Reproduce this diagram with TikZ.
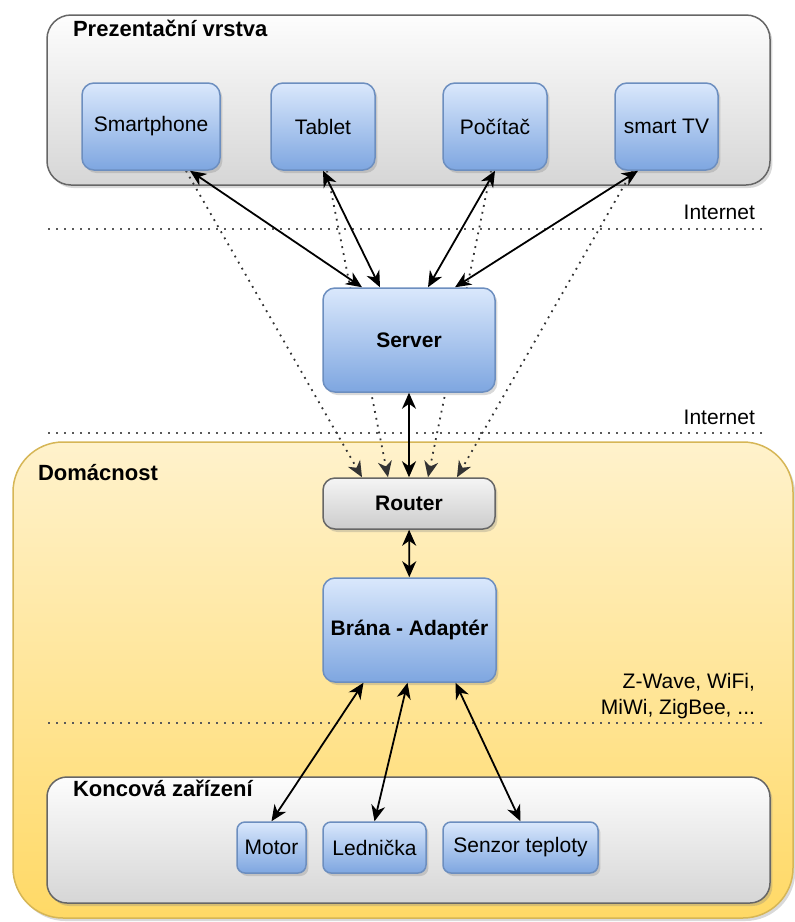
\documentclass[tikz,border=0pt]{standalone}
\usepackage{fontspec}
\setmainfont{Liberation Sans}
\usepackage{tikz}
\usetikzlibrary{arrows.meta}
\usetikzlibrary{shadows}
\definecolor{bluetop}{HTML}{DAE8FC}
\definecolor{bluebot}{HTML}{7EA6E0}
\definecolor{blueline}{HTML}{6C8EBF}
\definecolor{greytop}{HTML}{FDFDFD}
\definecolor{greybot}{HTML}{D6D6D6}
\definecolor{greyline}{HTML}{666666}
\definecolor{yeltop}{HTML}{FFF2CC}
\definecolor{yelbot}{HTML}{FFD966}
\definecolor{yelline}{HTML}{D6B656}
\pgfdeclarelayer{back}
\pgfdeclarelayer{links}
\pgfsetlayers{back,links,main}

\begin{document}
\begin{tikzpicture}[x=0.5pt,y=-0.5pt,
    font=\fontsize{10.5}{12.6}\selectfont,
    shade/.style={drop shadow={opacity=0.3,shadow xshift=1.2pt,shadow yshift=-1.5pt}},
    box/.style={draw=blueline, line width=0.75pt, rounded corners=6pt,
        top color=bluetop, bottom color=bluebot, inner sep=0pt, shade},
    hub/.style={box, draw=greyline, top color=gray!8, bottom color=gray!40},
    layer/.style={draw=greyline, line width=0.75pt, rounded corners=12pt,
        top color=greytop, bottom color=greybot, shade},
    lbl/.style={anchor=west, font=\fontsize{11}{13}\selectfont\bfseries},
    note/.style={anchor=east, align=right},
    link/.style={{Stealth[length=8pt,width=7pt,inset=2.5pt]}-{Stealth[length=8pt,width=7pt,inset=2.5pt]}, line width=0.9pt},
    weak/.style={-{Stealth[length=8pt,width=7pt,inset=2.5pt]}, dash pattern=on 0.9pt off 2.6pt, line width=0.9pt, draw=black!80},
    sep/.style={dash pattern=on 1pt off 3pt, line width=0.8pt, draw=black!65}
]
\useasboundingbox (0,0) rectangle (795,922);

\begin{pgfonlayer}{back}
    \draw[layer] (47,15) rectangle (770,185);
    \draw[yelline, line width=0.75pt, rounded corners=25pt, top color=yeltop, bottom color=yelbot, shade]
        (13,442) rectangle (793,918);
    \draw[layer, rounded corners=10pt] (47,777) rectangle (770,903);
    \draw[sep] (48,229) -- (765,229);
    \draw[sep] (48,433) -- (765,433);
    \draw[sep] (48,723) -- (765,723);
\end{pgfonlayer}

\node[lbl] (pres) at (66,28) {Prezentační vrstva};
\node[lbl] (home) at (31,473) {Domácnost};
\node[lbl] (ends) at (66,788) {Koncová zařízení};
\node[note] (net1) at (762,212) {Internet};
\node[note] (net2) at (762,417) {Internet};
\node[note] (radio) at (762,696) {Z-Wave, WiFi,\\MiWi, ZigBee, ...};

\node[box, minimum width=69pt, minimum height=43.5pt] (sp) at (151,126.5) {Smartphone};
\node[box, minimum width=52pt, minimum height=43.5pt] (tb) at (323,126.5) {Tablet};
\node[box, minimum width=52pt, minimum height=43.5pt] (pc) at (495,126.5) {Počítač};
\node[box, minimum width=51.5pt, minimum height=43.5pt] (tv) at (666.5,126.5) {smart TV};
\node[box, minimum width=86pt, minimum height=52pt, font=\fontsize{10.5}{12.6}\selectfont\bfseries] (srv) at (409,340) {Server};
\node[hub, minimum width=86pt, minimum height=25.5pt, font=\fontsize{10.5}{12.6}\selectfont\bfseries] (rt) at (409,503.5) {Router};
\node[box, minimum width=86.5pt, minimum height=52pt, font=\fontsize{10.5}{12.6}\selectfont\bfseries] (gw) at (409.5,630) {Brána - Adaptér};
\node[box, minimum width=34.5pt, minimum height=25.5pt, rounded corners=4pt] (mot) at (271.5,847.5) {Motor};
\node[box, minimum width=51.5pt, minimum height=25.5pt, rounded corners=4pt] (led) at (374.5,847.5) {Lednička};
\node[box, minimum width=77.5pt, minimum height=25.5pt, rounded corners=4pt] (sen) at (520.5,847.5) {Senzor teploty};

\begin{pgfonlayer}{links}
    \draw[weak] ([xshift=17.5pt]sp.south) -- ([xshift=-23.5pt]rt.north);
    \draw[weak] ([xshift=2pt]tb.south) -- ([xshift=-10.5pt]rt.north);
    \draw[weak] ([xshift=-2pt]pc.south) -- ([xshift=9.5pt]rt.north);
    \draw[weak] ([xshift=-17pt]tv.south) -- ([xshift=24pt]rt.north);
\end{pgfonlayer}

\draw[link] ([xshift=19.5pt]sp.south) -- ([xshift=-23.5pt]srv.north);
\draw[link] (tb.south) -- ([xshift=-14.5pt]srv.north);
\draw[link] (pc.south) -- ([xshift=9.5pt]srv.north);
\draw[link] ([xshift=-14.25pt]tv.south) -- ([xshift=23pt]srv.north);
\draw[link] (srv) -- (rt);
\draw[link] (rt) -- (gw);
\draw[link] ([xshift=-23pt]gw.south) -- (mot.north);
\draw[link] ([xshift=-1pt]gw.south) -- (led.north);
\draw[link] ([xshift=23pt]gw.south) -- (sen.north);
\end{tikzpicture}
\end{document}
